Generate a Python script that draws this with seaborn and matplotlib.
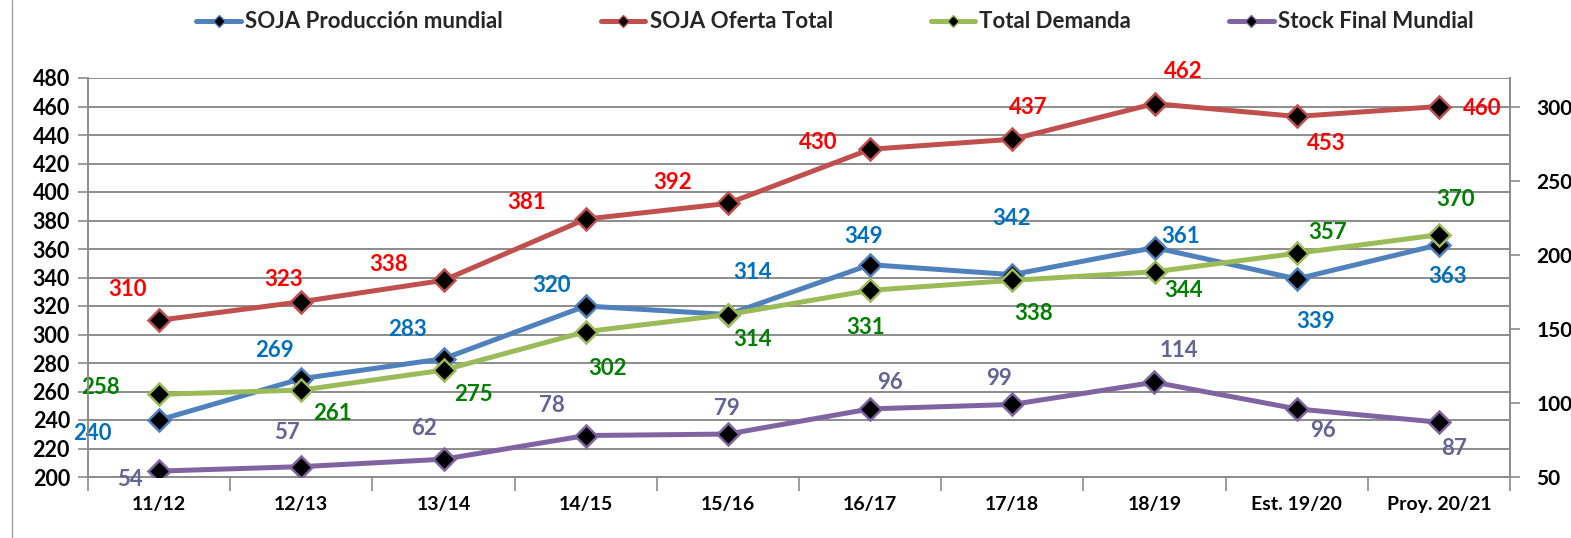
import matplotlib
matplotlib.use("Agg")
import matplotlib.pyplot as plt
import seaborn as sns
import numpy as np
from matplotlib.lines import Line2D

# ---- data ----
categories = ["11/12", "12/13", "13/14", "14/15", "15/16", "16/17", "17/18", "18/19",
              "Est. 19/20", "Proy. 20/21"]
produccion = [240, 269, 283, 320, 314, 349, 342, 361, 339, 363]
oferta = [310, 323, 338, 381, 392, 430, 437, 462, 453, 460]
demanda = [258, 261, 275, 302, 314, 331, 338, 344, 357, 370]
stock = [54, 57, 62, 78, 79, 96, 99, 114, 96, 87]
left_ticks = list(range(200, 481, 20))
right_ticks = [50, 100, 150, 200, 250, 300]

series_names = ["SOJA Producción mundial", "SOJA Oferta Total", "Total Demanda", "Stock Final Mundial"]

# ---- styling ----
sns.set_theme(style="white")
plt.rcParams["font.family"] = ["Lato", "DejaVu Sans"]
plt.rcParams["font.weight"] = "bold"

line_colors = ["#4F81BD", "#C0504D", "#9BBB59", "#8064A2"]
label_colors = ["#0070C0", "#FF0000", "#008000", "#646496"]
grid_c = "#8C8C8C"

# label offsets in pixels (dx, dy up)
off_prod = [(-67, -13), (-27, 28), (-36, 29), (-34, 21), (25, 42), (-7, 28), (-1, 56), (26, 11), (19, -43), (9, -32)]
off_ofer = [(-32, 31), (-18, 22), (-55, 16), (-59, 17), (-55, 21), (-52, 7), (16, 32), (29, 32), (30, -27), (43, -2)]
off_dem = [(-59, 7), (31, -23), (30, -24), (22, -37), (25, -25), (-5, -37), (21, -33), (29, -19), (31, 21), (17, 35)]
off_stk = [(-29, -8), (-14, 34), (-20, 31), (-34, 30), (-1, 26), (20, 26), (-13, 26), (24, 32), (26, -22), (15, -26)]

W, H = 1571, 538
fig = plt.figure(figsize=(W / 100, H / 100), dpi=100)
ax = fig.add_axes([88 / W, 1 - 477 / H, (1510 - 88) / W, (477 - 78) / H])
ax2 = ax.twinx()

x = np.arange(len(categories))

def draw(a, vals, color, zo):
    sns.lineplot(x=x, y=vals, ax=a, color=color, linewidth=3.6, marker="D", markersize=11,
                 markerfacecolor="black", markeredgecolor=color, markeredgewidth=1.8,
                 zorder=zo, legend=False)

draw(ax, oferta, line_colors[1], 3)
draw(ax, demanda, line_colors[2], 4)
draw(ax, produccion, line_colors[0], 3.5)
draw(ax2, stock, line_colors[3], 3)

ax.set_xlim(-0.5, len(categories) - 0.5)
ax.set_ylim(200, 480)
ax2.set_ylim(50, 319.5)
ax.set_yticks(left_ticks)
ax2.set_yticks(right_ticks)
ax.set_xticks(x)
ax.set_xticklabels(categories)
ax.set_xticks(np.arange(-0.5, len(categories), 1), minor=True)

ax.grid(False)
ax2.grid(False)
ax.yaxis.grid(True, color=grid_c, linewidth=1.4)
ax.set_axisbelow(True)

for a in (ax, ax2):
    for s in a.spines.values():
        s.set_color(grid_c)
        s.set_linewidth(1.2)
    a.spines["top"].set_visible(False)

ax.tick_params(axis="y", which="major", length=7, width=1.2, color=grid_c, labelsize=15.5, pad=6,
               left=True)
ax.tick_params(axis="x", which="major", length=0, labelsize=14, pad=14)
ax.tick_params(axis="x", which="minor", length=10, width=1.2, color=grid_c, bottom=True)
ax2.tick_params(axis="y", length=7, width=1.2, color=grid_c, labelsize=15, pad=12, right=True)
for t in ax.get_yticklabels() + ax2.get_yticklabels() + ax.get_xticklabels():
    t.set_fontweight("bold")
    t.set_color("black")

ax.set_xlabel("")
ax.set_ylabel("")
ax2.set_ylabel("")

def labels(a, vals, offs, color):
    for xi, v, (dx, dy) in zip(x, vals, offs):
        a.annotate(str(v), (xi, v), xytext=(dx, dy), textcoords="offset pixels",
                   ha="center", va="center", color=color, fontsize=16, fontweight="bold",
                   zorder=6)

labels(ax, produccion, off_prod, label_colors[0])
labels(ax, oferta, off_ofer, label_colors[1])
labels(ax, demanda, off_dem, label_colors[2])
labels(ax2, stock, off_stk, label_colors[3])

handles = [Line2D([0], [0], color=c, linewidth=3.6, marker="D", markersize=6,
                  markerfacecolor="black", markeredgecolor=c) for c in line_colors]
leg = fig.legend(handles, series_names, loc="center", bbox_to_anchor=(0.5315, 1 - 22 / H), ncol=4,
                 frameon=False, handlelength=2.0, handletextpad=0.2,
                 columnspacing=4.4, prop={"weight": "bold", "size": 16})

# chart area left border
fig.add_artist(Line2D([12 / W, 12 / W], [0, 1], color="#A0A0A0", linewidth=1.0))

fig.savefig("out.png", dpi=100)
